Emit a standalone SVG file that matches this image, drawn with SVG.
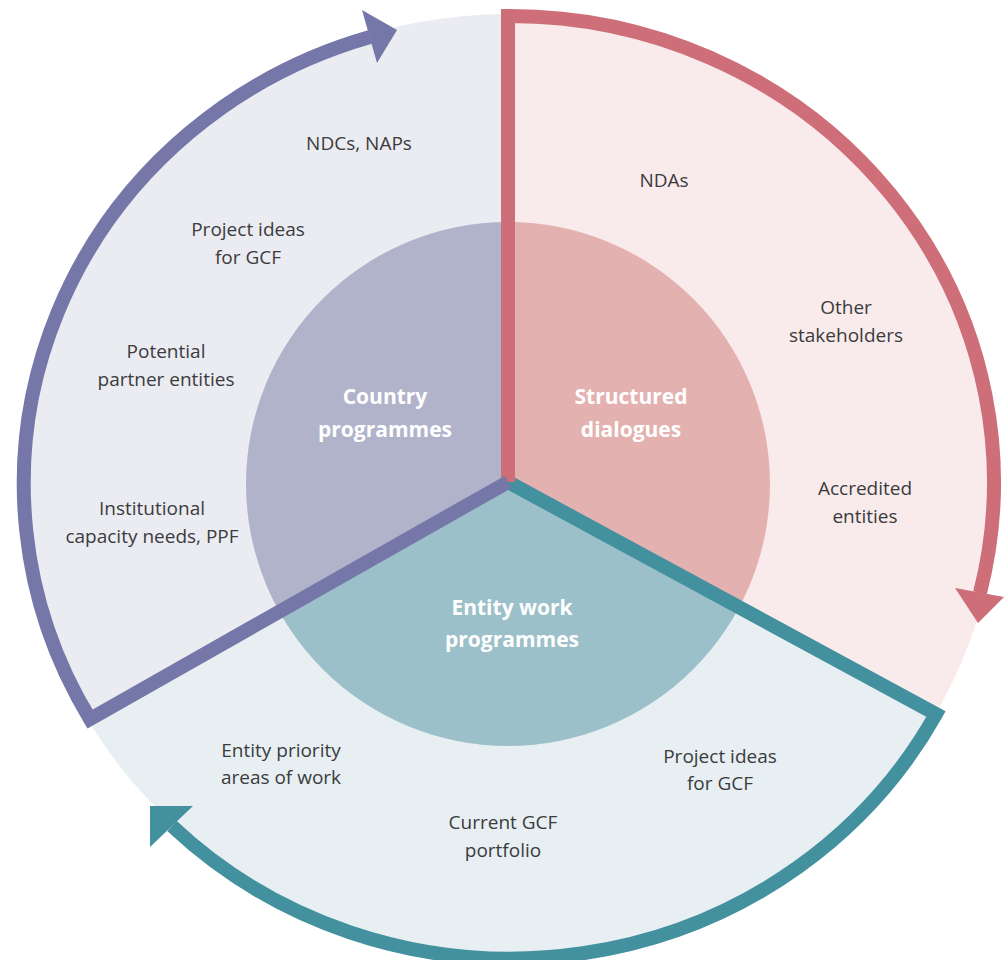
<svg xmlns="http://www.w3.org/2000/svg" width="1005" height="960" viewBox="0 0 1005 960">
  <style>
    .lbl { font-family: "Open Sans", "Liberation Sans", sans-serif; font-size: 19px; fill: #3b3b3d; text-anchor: middle; }
    .ttl { font-family: "Open Sans", "Liberation Sans", sans-serif; font-size: 21px; font-weight: bold; fill: #ffffff; text-anchor: middle; }
    .ring { fill: none; stroke-width: 14; stroke-linejoin: miter; stroke-linecap: butt; }
  </style>
  <defs>
    <clipPath id="cpP"><polygon points="508,482 508,-20 -20,-20 -20,780"/></clipPath>
    <clipPath id="cpR"><polygon points="508,482 508,-20 1025,-20 1025,765"/></clipPath>
    <clipPath id="cpT"><polygon points="508,482 1025,765 1025,980 -20,980 -20,780"/></clipPath>
  </defs>
  <rect width="1005" height="960" fill="#ffffff"/>

  <g id="country-programmes">
    <g clip-path="url(#cpP)">
      <ellipse cx="510" cy="484" rx="488" ry="470" fill="#ebebf2"/>
      <circle cx="508" cy="484" r="262" fill="#b1b3cb"/>
    </g>
    <text class="ttl" x="385" y="404">Country</text>
    <text class="ttl" x="385" y="437">programmes</text>
    <text class="lbl" x="359" y="150">NDCs, NAPs</text>
    <text class="lbl" x="248" y="236">Project ideas</text>
    <text class="lbl" x="248" y="264">for GCF</text>
    <text class="lbl" x="166" y="358">Potential</text>
    <text class="lbl" x="166" y="386">partner entities</text>
    <text class="lbl" x="152" y="515">Institutional</text>
    <text class="lbl" x="152" y="543">capacity needs, PPF</text>
  </g>

  <g id="structured-dialogues">
    <g clip-path="url(#cpR)">
      <ellipse cx="510" cy="484" rx="488" ry="470" fill="#f9eaec"/>
      <circle cx="508" cy="484" r="262" fill="#e4b1b1"/>
    </g>
    <text class="ttl" x="631" y="404">Structured</text>
    <text class="ttl" x="631" y="437">dialogues</text>
    <text class="lbl" x="664" y="187">NDAs</text>
    <text class="lbl" x="846" y="314">Other</text>
    <text class="lbl" x="846" y="342">stakeholders</text>
    <text class="lbl" x="865" y="495">Accredited</text>
    <text class="lbl" x="865" y="523">entities</text>
  </g>

  <g id="entity-work-programmes">
    <g clip-path="url(#cpT)">
      <ellipse cx="510" cy="484" rx="488" ry="470" fill="#e7eff2"/>
      <circle cx="508" cy="484" r="262" fill="#9cc0c9"/>
    </g>
    <text class="ttl" x="512" y="615">Entity work</text>
    <text class="ttl" x="512" y="647">programmes</text>
    <text class="lbl" x="281" y="757">Entity priority</text>
    <text class="lbl" x="281" y="784">areas of work</text>
    <text class="lbl" x="720" y="763">Project ideas</text>
    <text class="lbl" x="720" y="790">for GCF</text>
    <text class="lbl" x="503" y="829">Current GCF</text>
    <text class="lbl" x="503" y="857">portfolio</text>
  </g>

  <g id="connectors">
    <path class="ring" stroke="#43909e" d="M508 482 L936 714 A484 466 0 0 1 172 826"/>
    <polygon fill="#43909e" points="150,806 193,806 150,847"/>
    <path class="ring" stroke="#cd6e78" d="M508 482 L508 16 A484 466 0 0 1 980 593"/>
    <polygon fill="#cd6e78" points="955,588 1004,597 978,623"/>
    <path class="ring" stroke="#7577a8" d="M508 482 L90 719 A484 466 0 0 1 370 37"/>
    <polygon fill="#7577a8" points="362,10 397,30 377,63"/>
  </g>
</svg>
